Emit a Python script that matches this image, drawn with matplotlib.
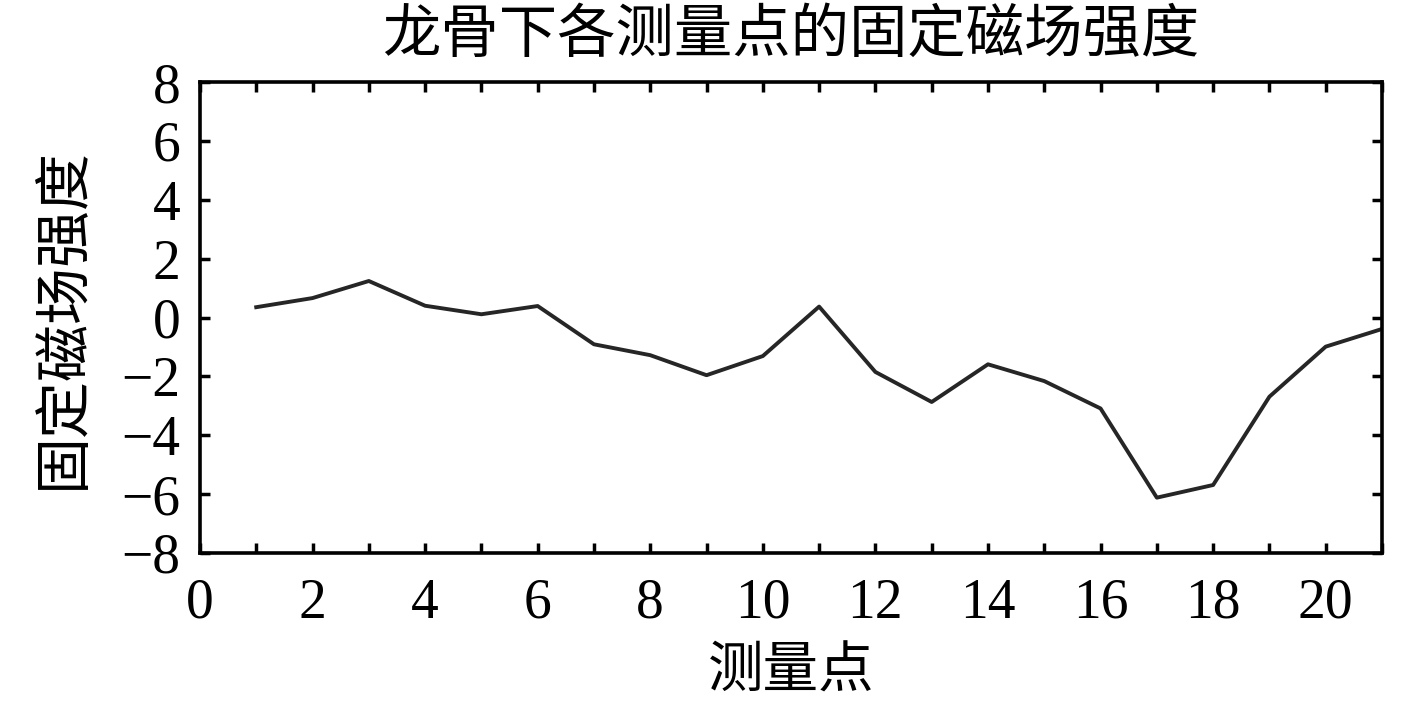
import numpy as np
import matplotlib
matplotlib.use('Agg')
import matplotlib.pyplot as plt
from matplotlib.ticker import MultipleLocator

plt.rcParams['font.family'] = ['Liberation Serif', 'Noto Sans CJK SC']
plt.rcParams['axes.unicode_minus'] = True

# 测量点及固定磁场强度
points = list(range(1, 22))
field = [0.35, 0.66, 1.24, 0.40, 0.11, 0.39, -0.91, -1.28, -1.96, -1.31, 0.37,
         -1.85, -2.87, -1.59, -2.16, -3.09, -6.12, -5.69, -2.69, -0.99, -0.39]

fig = plt.figure(figsize=(14.17, 7.04), dpi=100)
ax = fig.add_axes([0.1411, 0.2145, 0.8342, 0.669])
ax.plot(points, field, color='#262626', linewidth=2.8)

ax.set_xlim(0, 21)
ax.set_ylim(-8, 8)
ax.xaxis.set_major_locator(MultipleLocator(2))
ax.xaxis.set_minor_locator(MultipleLocator(1))
ax.yaxis.set_major_locator(MultipleLocator(2))
ax.tick_params(which='both', direction='in', top=True, right=True,
               length=7, width=2.5, labelsize=40)
ax.tick_params(axis='x', pad=18)
ax.tick_params(axis='y', pad=14)
for s in ax.spines.values():
    s.set_linewidth(2.6)

ax.set_title('龙骨下各测量点的固定磁场强度', fontsize=42, pad=22)
ax.set_xlabel('测量点', fontsize=40, labelpad=13)
ax.set_ylabel('固定磁场强度', fontsize=41, labelpad=22)

fig.savefig('out.png', dpi=100)
